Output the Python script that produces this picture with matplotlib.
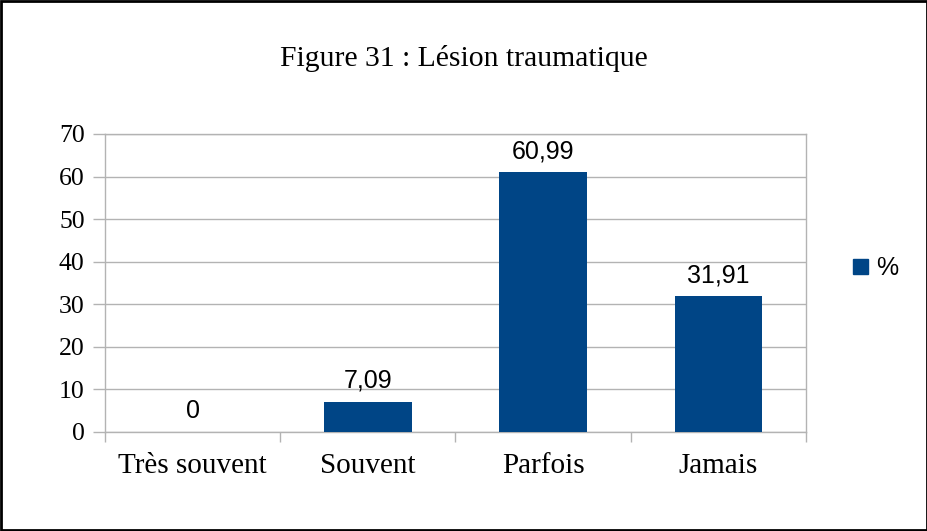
import matplotlib
matplotlib.use("Agg")
import matplotlib.pyplot as plt
from matplotlib.patches import Rectangle

categories = ["Très souvent", "Souvent", "Parfois", "Jamais"]
values = [0, 7.09, 60.99, 31.91]
labels = ["0", "7,09", "60,99", "31,91"]
yticks = [0, 10, 20, 30, 40, 50, 60, 70]
title = "Figure 31 : Lésion traumatique"
series_name = "%"

bar_color = "#004586"
grid_color = "#b3b3b3"
serif = ["Liberation Serif", "DejaVu Serif"]
sans = ["Liberation Sans", "DejaVu Sans"]

fig = plt.figure(figsize=(9.28, 5.31), dpi=100)
ax = fig.add_axes([105/928, 1-432/531, (806-105)/928, (432-134)/531])

x = list(range(len(categories)))
ax.bar(x, values, width=0.5, color=bar_color, zorder=3)
ax.set_xlim(-0.5, len(categories) - 0.5)
ax.set_ylim(0, 70)
ax.set_yticks(yticks)
ax.set_yticklabels([str(t) for t in yticks], family=serif, fontsize=18.5)
ax.set_xticks(x)
ax.set_xticklabels(categories, family=serif, fontsize=21)
ax.tick_params(axis="x", length=0, pad=15)
ax.set_xticks([i - 0.5 for i in range(len(categories) + 1)], minor=True)
ax.tick_params(axis="x", which="minor", length=7.2, color=grid_color, width=1)
ax.tick_params(axis="y", length=8.6, color=grid_color, width=1, pad=6)
ax.yaxis.grid(True, color=grid_color, linewidth=1, zorder=0)
for s in ax.spines.values():
    s.set_color(grid_color)
    s.set_linewidth(1)

for xi, v, lab in zip(x, values, labels):
    ax.annotate(lab, (xi, v), xytext=(0, 10), textcoords="offset points",
                ha="center", va="baseline", family=sans, fontsize=18, color="black")

fig.text(0.5, 1-58/531, title, ha="center", va="center", family=serif, fontsize=21.3)

# legend
fig.patches.append(Rectangle((853/928, 1-274/531), 15/928, 15/531,
                             transform=fig.transFigure, color=bar_color))
fig.text(876/928, 1-268/531, series_name, ha="left", va="center", family=sans, fontsize=18)

# border
fig.patches.append(Rectangle((1/928, 1/531), 926/928, 529/531, transform=fig.transFigure,
                             fill=False, edgecolor="black", linewidth=2))

fig.savefig("out.png", dpi=100)
